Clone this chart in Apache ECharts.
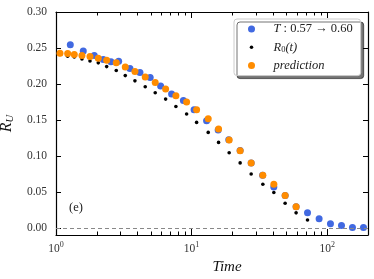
<!DOCTYPE html>
<html><head><meta charset="utf-8">
<script src="https://cdn.jsdelivr.net/npm/echarts@6/dist/echarts.min.js"></script>
<style>html,body{margin:0;padding:0;background:#fff}#c{width:374px;height:279px}</style>
</head><body><div id="c"></div>
<script>
// ---- data ----
const blueT = [1.275,1.589,1.915,2.232,2.543,2.897,3.51,4.16,4.95,5.91,7.12,8.70,10.43,12.9,15.7,18.8,22.8,27.5,33.4,40.4,49.0,59.0,71.6,87.2,105.7,127.5,153.6,185.2];
const blueR = [0.2546,0.2459,0.2394,0.2338,0.2307,0.2316,0.2214,0.2158,0.2089,0.197,0.1859,0.1768,0.1641,0.1488,0.1359,0.1225,0.1076,0.0902,0.0730,0.0569,0.0448,0.0291,0.0208,0.0125,0.0055,0.0032,0.0004,0.0004];
const r0T = [1.070,1.219,1.364,1.554,1.781,2.050,2.364,2.782,3.242,3.821,4.551,5.393,6.434,7.661,9.189,10.89,13.26,15.81,18.93,22.81,27.50,33.53,40.42,48.96,59.00,71.6];
const r0R = [0.241,0.2385,0.2376,0.2348,0.232,0.2293,0.2241,0.2186,0.2116,0.2043,0.196,0.1877,0.1789,0.1687,0.1583,0.1465,0.1326,0.1187,0.1044,0.0902,0.0749,0.0605,0.049,0.0341,0.0208,0.0108];
const predT = [1.070,1.219,1.364,1.554,1.781,2.050,2.364,2.782,3.242,3.821,4.551,5.393,6.434,7.661,9.189,10.89,13.26,15.81,18.93,22.81,27.50,33.53,40.42,48.96,59.00];
const predR = [0.2427,0.2422,0.2408,0.2394,0.238,0.2358,0.233,0.2293,0.2237,0.2172,0.2098,0.2019,0.1928,0.1835,0.1748,0.1641,0.1516,0.1373,0.1221,0.1072,0.0902,0.073,0.0605,0.0448,0.0291];
const yTicks = [0,0.05,0.10,0.15,0.20,0.25,0.30];
const xMajorTicks = [1,10,100];
const xMinorTicks = [2,3,4,5,6,7,8,9,20,30,40,50,60,70,80,90,200];
const legendNames = ['T','R0','prediction'];
// ---- chart ----
const F = 'Liberation Serif';
const chart = echarts.init(document.getElementById('c'), null, {renderer:'canvas'});
const zip = (a,b)=>a.map((v,i)=>[v,b[i]]);
function xAx(pos, major, showLine){
  return {
    type:'log', logBase:10, min:1, max:200, position:pos, gridIndex:0,
    axisLine:{show:showLine, onZero:false, lineStyle:{color:'#000', width:1.2}},
    axisTick:{show:true, inside:true, length: major?6:3.5, customValues: major?xMajorTicks:xMinorTicks, lineStyle:{color:'#000', width:1}},
    axisLabel:{show: major && pos==='bottom', customValues:xMajorTicks, margin:6,
      formatter:v=>'{b|10}{s|'+Math.round(Math.log10(v))+'}',
      rich:{b:{fontFamily:F,fontSize:11.5,color:'#333'}, s:{fontFamily:F,fontSize:8,color:'#333',verticalAlign:'top',padding:[0,0,7,0]}}},
    splitLine:{show:false}, minorTick:{show:false},
    name: (major && pos==='bottom') ? 'Time' : '',
    nameLocation:'middle', nameGap:22,
    nameTextStyle:{fontFamily:F, fontStyle:'italic', fontSize:15, color:'#111', padding:[0,0,0,30]}
  };
}
function yAx(pos){
  return {
    type:'value', min:-0.01, max:0.30, position:pos,
    axisLine:{show:true, onZero:false, lineStyle:{color:'#000', width:1.2}},
    axisTick:{show:true, inside:true, length:5, customValues:yTicks, lineStyle:{color:'#000'}},
    axisLabel:{show: pos==='left', customValues:yTicks, margin:9, formatter:v=>v.toFixed(2), fontFamily:F, fontSize:11.5, color:'#333'},
    splitLine:{show:false},
    name: pos==='left' ? '{r|R}{u|U}' : '', nameLocation:'middle', nameGap:36,
    nameTextStyle:{rich:{r:{fontFamily:F, fontStyle:'italic', fontSize:16, color:'#111'}, u:{fontFamily:F, fontStyle:'italic', fontSize:10.5, color:'#111', verticalAlign:'bottom', padding:[8,0,0,0]}}}
  };
}
const dotIcon = 'path://M0,0M10,10M5,2.5A2.5,2.5,0,1,1,5,7.5A2.5,2.5,0,1,1,5,2.5Z';
chart.setOption({
  animation:false,
  grid:{left:56, right:6, top:12, bottom:44, containLabel:false, outerBoundsMode:'none'},
  xAxis:[xAx('bottom',true,true), xAx('bottom',false,false), xAx('top',true,true), xAx('top',false,false)],
  yAxis:[yAx('left'), yAx('right')],
  legend:{
    orient:'vertical', left:234, top:19, padding:[3,8,3,14], itemGap:4.3,
    itemWidth:26, itemHeight:7,
    backgroundColor:'#fff', borderColor:'#ccc', borderWidth:1, borderRadius:3,
    shadowColor:'rgba(0,0,0,0.55)', shadowOffsetX:3, shadowOffsetY:3, shadowBlur:0,
    data:[{name:legendNames[0], icon:'circle'},{name:legendNames[1], icon:dotIcon},{name:legendNames[2], icon:'circle'}],
    formatter:n=> n==='T' ? '{i|T}{n| : 0.57 → 0.60}' : (n==='R0' ? '{i|R}{s|0}{i|(t)}' : '{i|prediction}'),
    textStyle:{lineHeight:14, padding:[0,0,0,4],
      rich:{i:{fontFamily:F, fontStyle:'italic', fontSize:12.5, color:'#222'},
            n:{fontFamily:F, fontSize:12.5, color:'#222'},
            s:{fontFamily:F, fontSize:8.5, color:'#222', verticalAlign:'bottom', padding:[6,0,0,0]}}}
  },
  graphic:[{type:'text', left:69, top:201, style:{text:'(e)', fontFamily:F, fontSize:12.5, fill:'#222'}}],
  series:[
    {name:'T', type:'scatter', data:zip(blueT,blueR), symbolSize:7, itemStyle:{color:'#4169e1', opacity:1}, z:2,
     markLine:{silent:true, symbol:'none', label:{show:false}, lineStyle:{color:'#888', type:[4,3], width:1}, data:[{yAxis:0}]}},
    {name:'R0', type:'scatter', data:zip(r0T,r0R), symbolSize:3.6, itemStyle:{color:'#000', opacity:1}, z:3},
    {name:'prediction', type:'scatter', data:zip(predT,predR), symbolSize:7, itemStyle:{color:'#ff8c00', opacity:1}, z:4}
  ]
});
</script></body></html>
